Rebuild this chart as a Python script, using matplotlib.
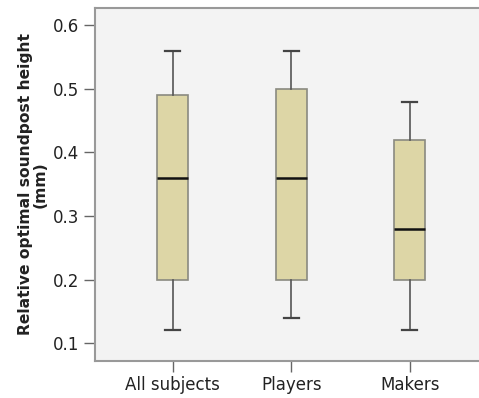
import matplotlib
matplotlib.use("Agg")
import matplotlib.pyplot as plt

# per-group box summaries (mm)
groups = ["All subjects", "Players", "Makers"]
whislo = [0.12, 0.14, 0.12]
q1 = [0.20, 0.20, 0.20]
med = [0.36, 0.36, 0.28]
q3 = [0.49, 0.50, 0.42]
whishi = [0.56, 0.56, 0.48]

stats = [dict(label=g, whislo=lo, q1=a, med=m, q3=b, whishi=hi, fliers=[])
         for g, lo, a, m, b, hi in zip(groups, whislo, q1, med, q3, whishi)]

fig = plt.figure(figsize=(4.79, 3.98), dpi=100)
ax = fig.add_axes([0.198, 0.093, 0.802, 0.888])
ax.set_facecolor("#f3f3f3")

ax.bxp(stats, positions=[1, 2, 3], widths=0.262, patch_artist=True,
       boxprops=dict(facecolor="#ddd6a6", edgecolor="#8a8a80", linewidth=1.2),
       medianprops=dict(color="#111111", linewidth=1.8),
       whiskerprops=dict(color="#555555", linewidth=1.2),
       capprops=dict(color="#444444", linewidth=1.6),
       capwidths=0.127)

ax.set_xlim(0.342, 3.583)
ax.set_ylim(0.072, 0.628)
ax.set_yticks([0.1, 0.2, 0.3, 0.4, 0.5, 0.6])
ax.set_yticklabels(["0.1", "0.2", "0.3", "0.4", "0.5", "0.6"])
ax.tick_params(axis="both", length=8, width=1, color="#666666",
               labelsize=12, labelcolor="#222222", pad=3)
for s in ["left", "top", "bottom"]:
    ax.spines[s].set_color("#999999")
    ax.spines[s].set_linewidth(1.5)
ax.spines["right"].set_visible(False)

ax.set_ylabel("Relative optimal soundpost height\n(mm)", fontsize=11.2,
              fontweight="bold", color="#222222", labelpad=4, linespacing=1.0)

fig.savefig("out.png", dpi=100)
